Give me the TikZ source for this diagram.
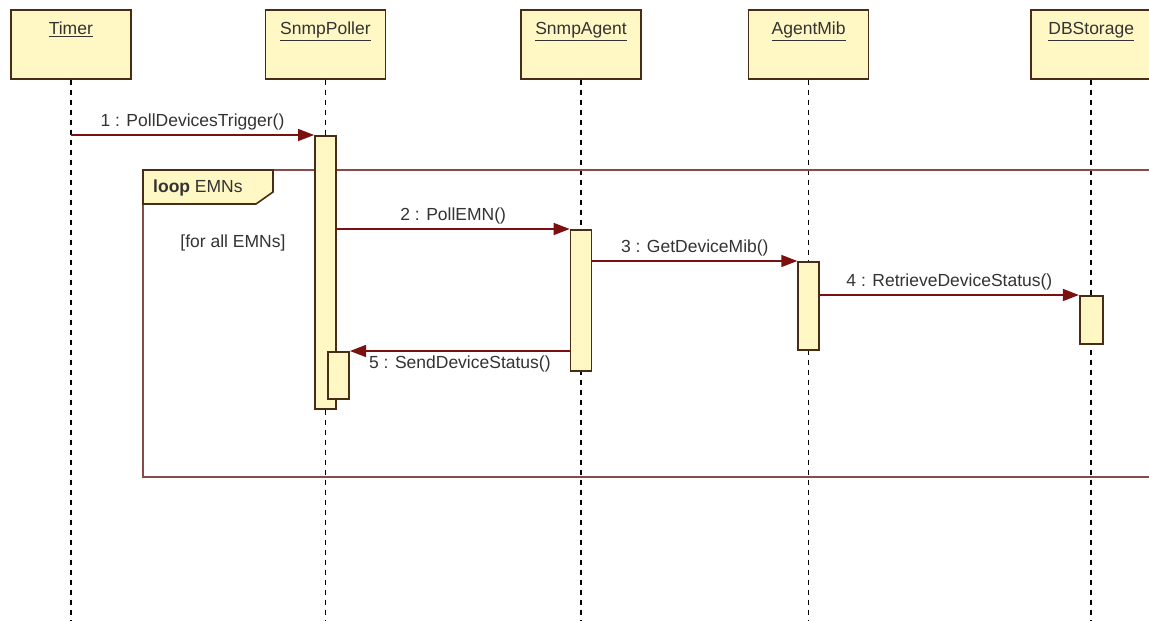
\documentclass[tikz,border=0pt]{standalone}
\usepackage{fontspec}
\setmainfont{Liberation Sans}
\usetikzlibrary{arrows.meta, positioning}

\definecolor{umlfill}{HTML}{FFF8C4}
\definecolor{umlline}{HTML}{4A2C14}
\definecolor{msgred}{HTML}{7A1010}
\definecolor{framered}{HTML}{8A4A4A}
\definecolor{umltext}{HTML}{333333}

\begin{document}
\begin{tikzpicture}[
    x=1pt, y=-1pt,
    font=\fontsize{17.5}{20}\selectfont,
    obj/.style={draw=umlline, line width=1.6pt, fill=umlfill, text=umltext, minimum width=120pt, inner sep=0pt, text height=25pt, text depth=44pt, anchor=north west},
    bar/.style={draw=umlline, line width=1.6pt, fill=umlfill, minimum width=21pt, inner sep=0pt, anchor=north},
    lifeline/.style={black, line width=1.5pt, dash pattern=on 5pt off 5pt},
    msg/.style={draw=msgred, line width=1.4pt, -{Triangle[length=16pt, width=12pt]}},
    txt/.style={text=umltext, inner sep=4pt},
    frame/.style={draw=framered, line width=1.6pt},
    tab/.style={draw=umlline, line width=1.6pt, fill=umlfill}
]
  \path[use as bounding box, fill=white] (0,0) rectangle (1149,621);
  \coordinate (bottom) at (0,621);

  \node[obj] (timer) at (10,9) {\underline{Timer}};
  \node[obj, right=133pt of timer] (poller) {\underline{SnmpPoller}};
  \node[obj, right=134pt of poller] (agent) {\underline{SnmpAgent}};
  \node[obj, right=106pt of agent] (mib) {\underline{AgentMib}};
  \node[obj, right=161pt of mib] (db) {\underline{DBStorage}};

  \draw[lifeline] (timer.south) -- (timer.south |- bottom);
  \draw[lifeline] (poller.south) -- (poller.south |- bottom);
  \draw[lifeline] (agent.south) -- (agent.south |- bottom);
  \draw[lifeline] (mib.south) -- (mib.south |- bottom);
  \draw[lifeline] (db.south) -- (db.south |- bottom);

  \draw[frame] (1155,170) -| (143,477) -- (1155,477);
  \draw[tab] (143,170) -- (273,170) -- (273,192) -- (256,204) -- (143,204) -- cycle;
  \node[txt, anchor=west] (looplbl) at (149,188) {\textbf{loop} EMNs};
  \node[txt] (guard) at (233,243) {[for all EMNs]};

  \node[bar, minimum height=273pt] (pollbar) at (poller.south |- 0,135) {};
  \node[bar, anchor=north west, xshift=2pt, minimum height=47pt] (nestbar) at (pollbar.north |- 0,351) {};
  \node[bar, minimum height=141pt] (agentbar) at (agent.south |- 0,229) {};
  \node[bar, minimum height=88pt] (mibbar) at (mib.south |- 0,261) {};
  \node[bar, minimum width=23pt, minimum height=48pt] (dbbar) at (db.south |- 0,295) {};

  \draw[msg] (timer.south |- pollbar.north) -- node[txt, above] (m1) {1 : PollDevicesTrigger()} (pollbar.north west);
  \draw[msg] (pollbar.east |- agentbar.north) -- node[txt, above] (m2) {2 : PollEMN()} (agentbar.north west);
  \draw[msg] (agentbar.east |- mibbar.north) -- node[txt, above] (m3) {3 : GetDeviceMib()} (mibbar.north west);
  \draw[msg] (mibbar.east |- dbbar.north) -- node[txt, above] (m4) {4 : RetrieveDeviceStatus()} (dbbar.north west);
  \draw[msg] (agentbar.west |- nestbar.north) -- node[txt, below] (m5) {5 : SendDeviceStatus()} (nestbar.north east);
\end{tikzpicture}
\end{document}
